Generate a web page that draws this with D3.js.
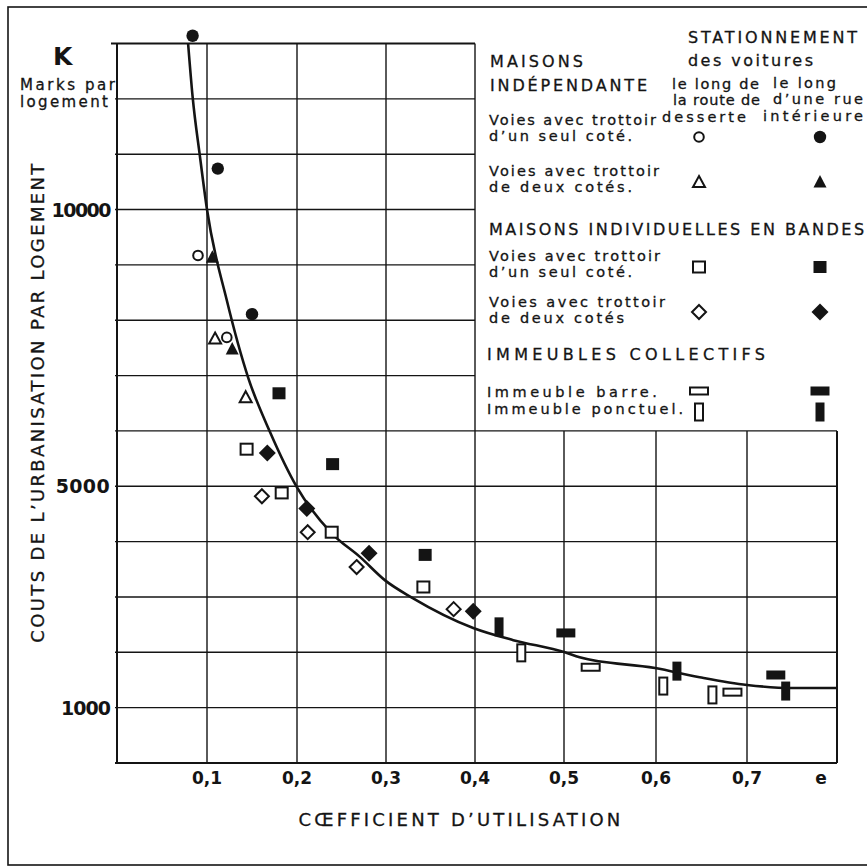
<!DOCTYPE html>
<html>
<head>
<meta charset="utf-8">
<script src="https://cdn.jsdelivr.net/npm/d3@7"></script>
<style>
  html, body { margin: 0; padding: 0; background: #fff; }
  svg { display: block; }
  text { font-family: "DejaVu Sans", Lato, sans-serif; fill: #141414; }
  text.ink { stroke: #141414; stroke-width: 0.3; }
</style>
</head>
<body>
<svg id="chart" width="867" height="868"></svg>
<script>
// Axis values
const xGridValues = [0, 0.1, 0.2, 0.3, 0.4, 0.5, 0.6, 0.7, 0.8];
const xTickValues = [0.1, 0.2, 0.3, 0.4, 0.5, 0.6, 0.7, 0.8];
const xTickLabels = ["0,1", "0,2", "0,3", "0,4", "0,5", "0,6", "0,7", "e"];
const yGridValues = [0, 1000, 2000, 3000, 4000, 5000, 6000, 7000, 8000, 9000, 10000, 11000, 12000, 13000];
const yTickValues = [1000, 5000, 10000];
const yTickLabels = ["1000", "5000", "10000"];

// Maisons indépendantes  [coefficient, Marks par logement]
const indepUnCoteDesserte      = [[0.090, 9170], [0.122, 7690]];
const indepUnCoteInterieure    = [[0.084, 13140], [0.112, 10740], [0.150, 8110]];
const indepDeuxCotesDesserte   = [[0.109, 7670], [0.143, 6610]];
const indepDeuxCotesInterieure = [[0.106, 9140], [0.128, 7480]];
// Maisons individuelles en bandes
const bandesUnCoteDesserte      = [[0.144, 5670], [0.183, 4880], [0.239, 4170], [0.342, 3180]];
const bandesUnCoteInterieure    = [[0.180, 6680], [0.240, 5400], [0.344, 3760]];
const bandesDeuxCotesDesserte   = [[0.161, 4820], [0.212, 4170], [0.267, 3540], [0.376, 2780]];
const bandesDeuxCotesInterieure = [[0.167, 5600], [0.211, 4600], [0.281, 3790], [0.398, 2740]];
// Immeubles collectifs
const barreDesserte      = [[0.529, 1730], [0.684, 1280]];
const barreInterieure    = [[0.502, 2350], [0.732, 1590]];
const ponctuelDesserte   = [[0.452, 1990], [0.608, 1390], [0.662, 1230]];
const ponctuelInterieure = [[0.427, 2460], [0.623, 1660], [0.743, 1300]];

// Courbe d'ajustement
const courbeX = [0.079, 0.084, 0.092, 0.100, 0.122, 0.146, 0.170, 0.200, 0.239, 0.271, 0.299, 0.330, 0.398, 0.443, 0.501, 0.517, 0.599, 0.648, 0.700, 0.751, 0.800];
const courbeY = [13000, 12040, 10980, 10000, 8360, 6950, 5980, 4980, 4150, 3720, 3300, 2980, 2440, 2220, 2000, 1910, 1715, 1550, 1410, 1355, 1355];

const series = [
  { data: indepUnCoteDesserte, mark: "circleOpen" },
  { data: indepUnCoteInterieure, mark: "circleFilled" },
  { data: indepDeuxCotesDesserte, mark: "triOpen" },
  { data: indepDeuxCotesInterieure, mark: "triFilled" },
  { data: bandesUnCoteDesserte, mark: "squareOpen" },
  { data: bandesUnCoteInterieure, mark: "squareFilled" },
  { data: bandesDeuxCotesDesserte, mark: "diamondOpen" },
  { data: bandesDeuxCotesInterieure, mark: "diamondFilled" },
  { data: barreDesserte, mark: "barreOpen" },
  { data: barreInterieure, mark: "barreFilled" },
  { data: ponctuelDesserte, mark: "ponctuelOpen" },
  { data: ponctuelInterieure, mark: "ponctuelFilled" }
];

const INK = "#141414";
const svg = d3.select("#chart");

// hand-ruled grid: slightly uneven column widths
const x = d3.scaleLinear().domain(xGridValues).range([117, 207, 297, 386, 475, 564, 656, 747, 837]);
const y = d3.scaleLinear().domain([0, 13000]).range([763, 43.5]);

// Outer frame
svg.append("rect").attr("x", 8).attr("y", 7).attr("width", 880).attr("height", 858)
  .attr("fill", "none").attr("stroke", INK).attr("stroke-width", 1.6);

// Grid: the upper right block (x > 0.4, y > 6000) is left free for the legend
const LEG_X = 0.4, LEG_Y = 6000;
const grid = svg.append("g").attr("stroke", INK);
yGridValues.forEach(v => {
  const x2 = v > LEG_Y ? x(LEG_X) : x(0.8);
  grid.append("line").attr("x1", x(0) - (v === 13000 ? 6 : 2)).attr("x2", x2)
    .attr("y1", y(v)).attr("y2", y(v))
    .attr("stroke-width", (v === 0 || v === 13000) ? 2 : 1.4);
});
xGridValues.forEach(v => {
  const y2 = v > LEG_X ? y(LEG_Y) : y(13000);
  grid.append("line").attr("x1", x(v)).attr("x2", x(v))
    .attr("y1", y(0)).attr("y2", y2)
    .attr("stroke-width", (v === 0 || v === 0.8) ? 2 : 1.4);
});

// Fitted curve
const line = d3.line().x(d => x(d[0])).y(d => y(d[1])).curve(d3.curveMonotoneX);
svg.append("path").datum(d3.zip(courbeX, courbeY)).attr("d", line)
  .attr("fill", "none").attr("stroke", INK).attr("stroke-width", 2.6);

// Marks
function drawMark(g, type, cx, cy) {
  const open = type.endsWith("Open");
  let el;
  switch (type) {
    case "circleOpen":
      el = g.append("circle").attr("cx", cx).attr("cy", cy).attr("r", 4.8); break;
    case "circleFilled":
      el = g.append("circle").attr("cx", cx).attr("cy", cy).attr("r", 6.2); break;
    case "triOpen":
      el = g.append("path").attr("d", `M${cx},${cy - 6}L${cx + 6},${cy + 5}L${cx - 6},${cy + 5}Z`); break;
    case "triFilled":
      el = g.append("path").attr("d", `M${cx},${cy - 7}L${cx + 6.5},${cy + 5.5}L${cx - 6.5},${cy + 5.5}Z`); break;
    case "squareOpen":
      el = g.append("rect").attr("x", cx - 6).attr("y", cy - 5.5).attr("width", 12).attr("height", 11); break;
    case "squareFilled":
      el = g.append("rect").attr("x", cx - 6.5).attr("y", cy - 6).attr("width", 13).attr("height", 12); break;
    case "diamondOpen":
      el = g.append("path").attr("d", `M${cx},${cy - 7}L${cx + 7},${cy}L${cx},${cy + 7}L${cx - 7},${cy}Z`); break;
    case "diamondFilled":
      el = g.append("path").attr("d", `M${cx},${cy - 8.5}L${cx + 8.5},${cy}L${cx},${cy + 8.5}L${cx - 8.5},${cy}Z`); break;
    case "barreOpen":
      el = g.append("rect").attr("x", cx - 9).attr("y", cy - 3.5).attr("width", 18).attr("height", 7); break;
    case "barreFilled":
      el = g.append("rect").attr("x", cx - 9.5).attr("y", cy - 4.5).attr("width", 19).attr("height", 9); break;
    case "ponctuelOpen":
      el = g.append("rect").attr("x", cx - 4).attr("y", cy - 8.5).attr("width", 8).attr("height", 17); break;
    case "ponctuelFilled":
      el = g.append("rect").attr("x", cx - 4.5).attr("y", cy - 9.5).attr("width", 9).attr("height", 19); break;
  }
  el.attr("fill", open ? "#fff" : INK).attr("stroke", open ? INK : "none").attr("stroke-width", open ? 2 : 0);
}

const marks = svg.append("g");
series.forEach(s => s.data.forEach(d => drawMark(marks, s.mark, x(d[0]), y(d[1]))));

// Text block: one <text>, one <tspan> per line, each line spaced out to its width
function block(lines, opts = {}) {
  const t = svg.append("text")
    .attr("class", opts.weight ? null : "ink")
    .attr("font-size", opts.size || 14.5)
    .attr("font-weight", opts.weight || 400)
    .attr("text-anchor", opts.anchor || "start");
  if (opts.transform) t.attr("transform", opts.transform);
  lines.forEach(l => {
    const ts = t.append("tspan").attr("x", l.x).attr("y", l.y).text(l.s);
    if (l.w) {
      const natural = ts.node().getComputedTextLength();
      const n = l.s.length;
      if (n > 1) ts.attr("letter-spacing", ((l.w - natural) / (n - 1)).toFixed(2));
    }
  });
  return t;
}

// Y tick labels
const yLabelWidths = [50, 54, 60];
yTickValues.forEach((v, i) => {
  block([{ s: yTickLabels[i], x: 110, y: y(v) + 7, w: yLabelWidths[i] }], { size: 19, weight: 700, anchor: "end" });
});
// X tick labels
xTickValues.forEach((v, i) => {
  const px = xTickLabels[i] === "e" ? x(v) - 16 : x(v);
  block([{ s: xTickLabels[i], x: px, y: 784 }], { size: 17, weight: 700, anchor: "middle" });
});

// Axis titles
block([{ s: "K", x: 53, y: 65 }], { size: 25, weight: 700 });
block([{ s: "Marks par", x: 20, y: 90, w: 95 }, { s: "logement", x: 20, y: 107, w: 88 }], { size: 15 });
block([{ s: "COUTS DE L’URBANISATION PAR LOGEMENT", x: 0, y: 0, w: 479 }],
  { size: 18, anchor: "middle", transform: "translate(44,402) rotate(-90)" });
block([{ s: "CŒFFICIENT D’UTILISATION", x: 461, y: 826, w: 322 }], { size: 18, anchor: "middle" });

// Legend
block([{ s: "STATIONNEMENT", x: 688, y: 43, w: 169 }, { s: "des voitures", x: 688, y: 66, w: 125 }], { size: 16 });
block([{ s: "MAISONS", x: 490, y: 67, w: 93 }, { s: "INDÉPENDANTE", x: 490, y: 91, w: 157 }], { size: 16 });
block([{ s: "le long de", x: 672, y: 89, w: 87 }, { s: "la route de", x: 673, y: 105, w: 87 },
       { s: "desserte", x: 662, y: 122, w: 84 }]);
block([{ s: "le long", x: 773, y: 88, w: 63 }, { s: "d’une rue", x: 773, y: 104, w: 90 },
       { s: "intérieure", x: 763, y: 121, w: 100 }]);

block([{ s: "Voies avec trottoir", x: 489, y: 125, w: 167 }, { s: "d’un seul coté.", x: 489, y: 141, w: 143 }]);
block([{ s: "Voies avec trottoir", x: 489, y: 176, w: 170 }, { s: "de deux cotés.", x: 489, y: 192, w: 143 }]);
block([{ s: "MAISONS INDIVIDUELLES EN BANDES", x: 489, y: 235, w: 375 }], { size: 16 });
block([{ s: "Voies avec trottoir", x: 489, y: 261, w: 171 }, { s: "d’un seul coté.", x: 489, y: 277, w: 143 }]);
block([{ s: "Voies avec trottoir", x: 489, y: 307, w: 176 }, { s: "de deux cotés", x: 489, y: 323, w: 135 }]);
block([{ s: "IMMEUBLES COLLECTIFS", x: 487, y: 360, w: 278 }], { size: 16 });
block([{ s: "Immeuble barre.", x: 487, y: 397, w: 170 }, { s: "Immeuble ponctuel.", x: 487, y: 414, w: 196 }]);

const legendRows = [
  ["circleOpen", "circleFilled", 137],
  ["triOpen", "triFilled", 182],
  ["squareOpen", "squareFilled", 267],
  ["diamondOpen", "diamondFilled", 312],
  ["barreOpen", "barreFilled", 391],
  ["ponctuelOpen", "ponctuelFilled", 412]
];
const leg = svg.append("g");
legendRows.forEach(r => {
  drawMark(leg, r[0], 699, r[2]);
  drawMark(leg, r[1], 820, r[2]);
});
</script>
</body>
</html>
